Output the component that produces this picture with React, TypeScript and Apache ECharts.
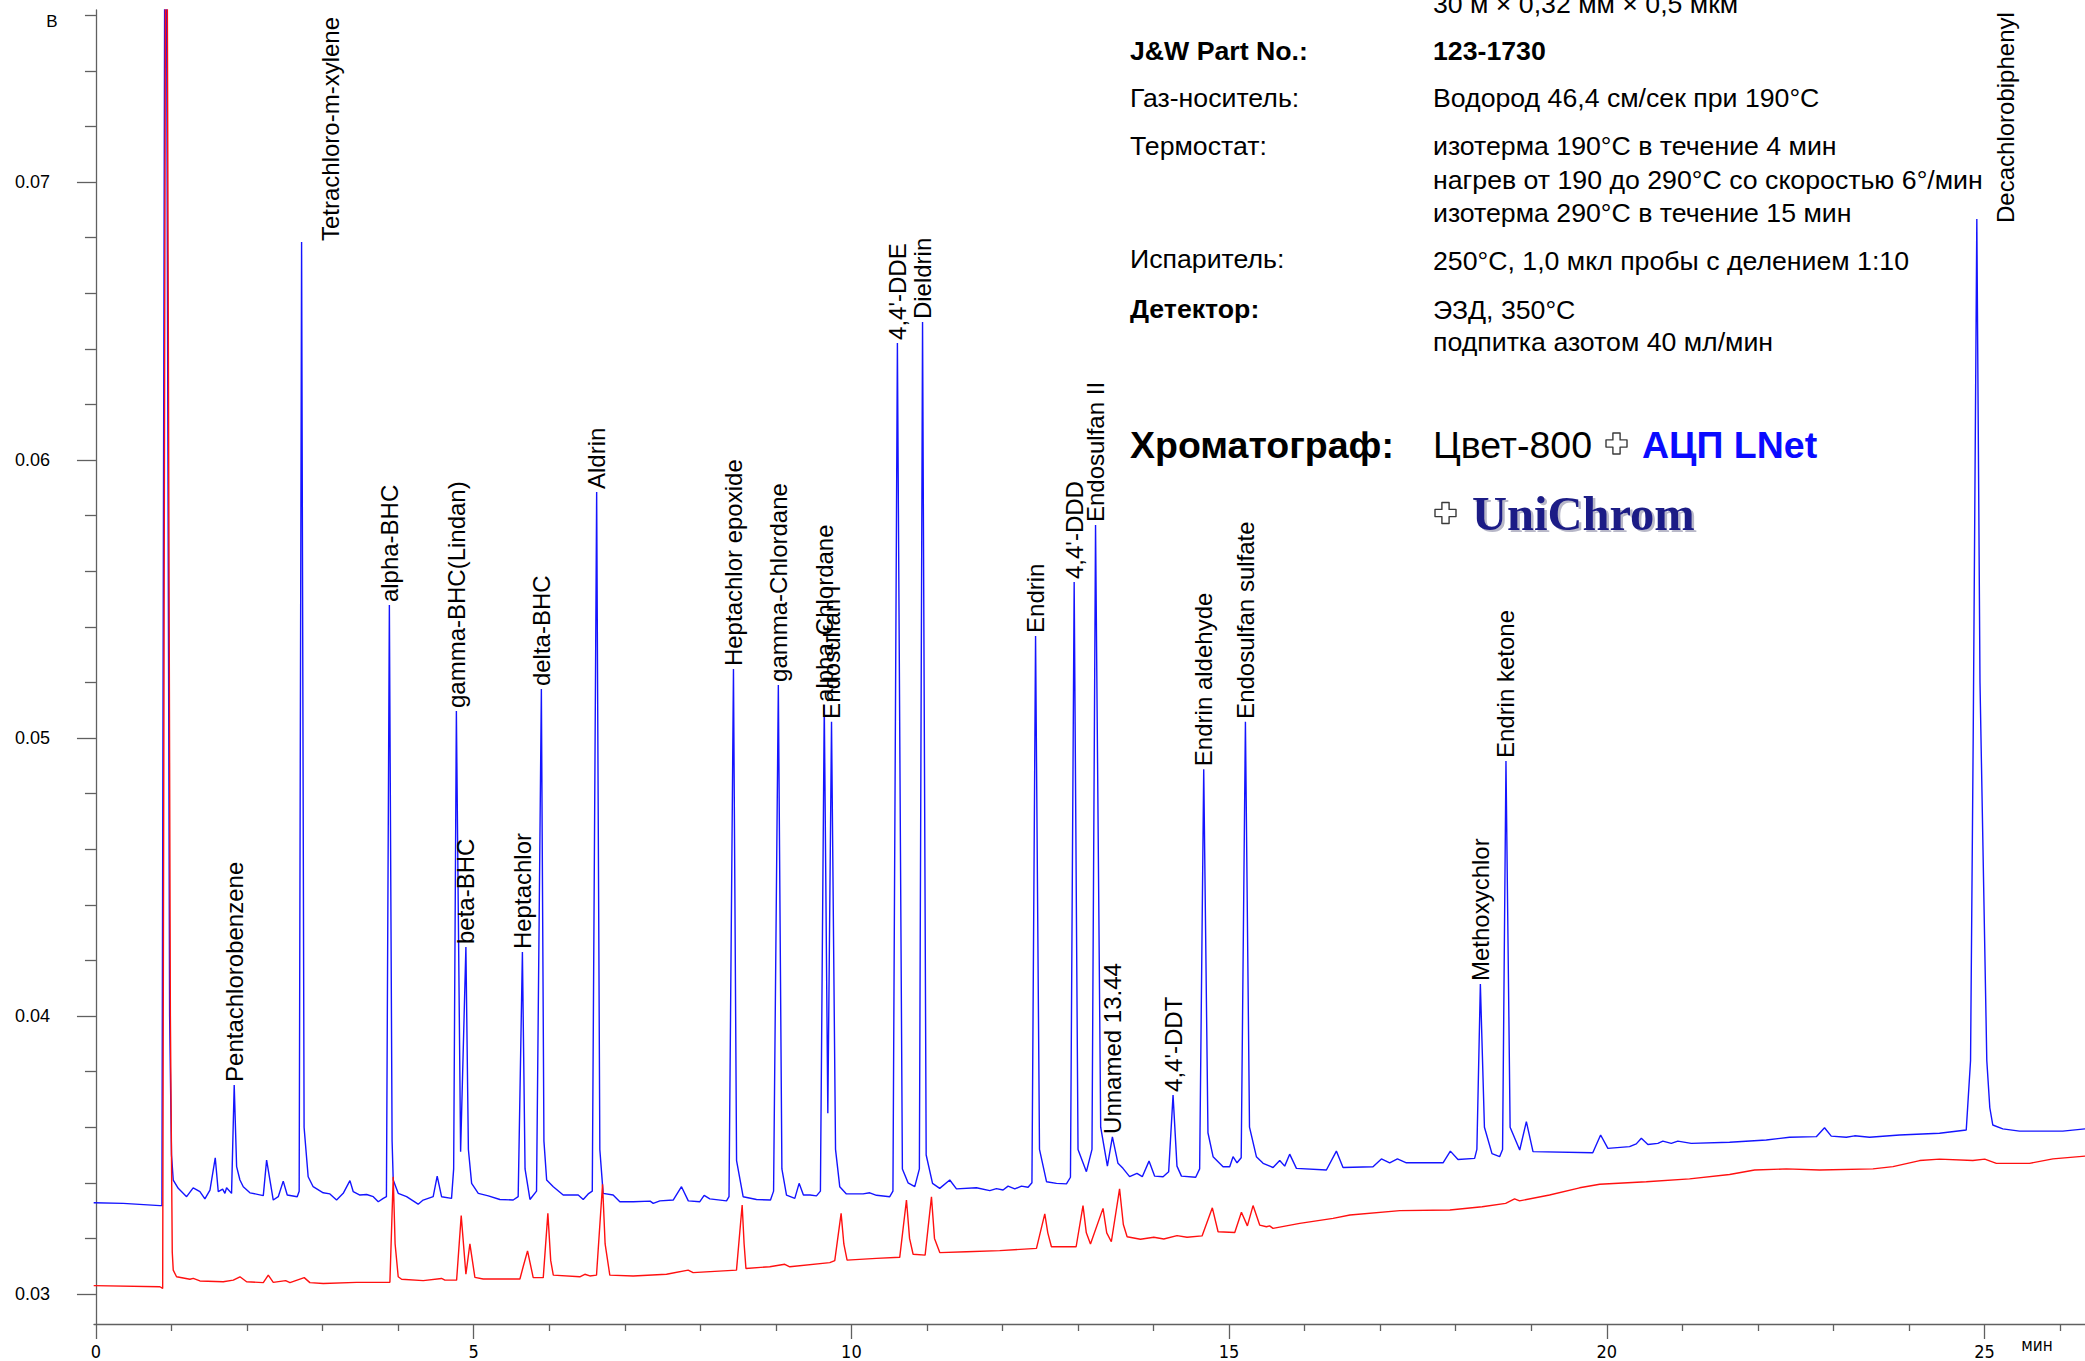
import { useEffect, useRef } from 'react';
import * as echarts from 'echarts';

// ---------- data ----------
const blueTrace: [number, number][] = [
  [-0.03, 0.03328], [0.361, 0.03326], [0.847, 0.03318], [0.873, 0.03318], [0.92, 0.09], [0.975, 0.04], [1.0, 0.035],
  [1.023, 0.0341], [1.089, 0.0338], [1.2, 0.0335], [1.287, 0.03382], [1.376, 0.03368], [1.442, 0.03342], [1.509, 0.03374],
  [1.579, 0.0349], [1.619, 0.03368], [1.677, 0.03377], [1.707, 0.03362], [1.729, 0.03382], [1.795, 0.03362], [1.83, 0.03752],
  [1.862, 0.03458], [1.906, 0.0341], [1.95, 0.03386], [2.038, 0.03364], [2.215, 0.03354], [2.259, 0.03482], [2.303, 0.0341],
  [2.347, 0.03338], [2.413, 0.0335], [2.479, 0.03406], [2.532, 0.03356], [2.664, 0.0335], [2.69, 0.0337], [2.722, 0.06784],
  [2.755, 0.036], [2.809, 0.03422], [2.875, 0.03386], [3.008, 0.03364], [3.097, 0.0336], [3.185, 0.03338], [3.273, 0.03362],
  [3.362, 0.03408], [3.406, 0.03368], [3.494, 0.03356], [3.583, 0.03358], [3.671, 0.0335], [3.737, 0.03332], [3.803, 0.03344],
  [3.845, 0.0335], [3.884, 0.05478], [3.92, 0.0355], [3.935, 0.0341], [4.001, 0.03362], [4.112, 0.0335], [4.265, 0.03323],
  [4.331, 0.03338], [4.464, 0.0335], [4.517, 0.03424], [4.575, 0.0335], [4.707, 0.03344], [4.735, 0.0345], [4.771, 0.05097],
  [4.827, 0.03512], [4.897, 0.04248], [4.93, 0.0352], [4.973, 0.03398], [5.061, 0.03362], [5.194, 0.03353], [5.347, 0.0334],
  [5.523, 0.03338], [5.589, 0.0335], [5.645, 0.0423], [5.68, 0.0345], [5.745, 0.0334], [5.832, 0.0337], [5.896, 0.05176],
  [5.93, 0.0355], [5.966, 0.0341], [6.054, 0.03386], [6.185, 0.03356], [6.384, 0.03356], [6.45, 0.0334], [6.516, 0.0336],
  [6.57, 0.0337], [6.628, 0.05885], [6.67, 0.0352], [6.714, 0.03362], [6.846, 0.03356], [6.935, 0.03332], [7.111, 0.03332],
  [7.336, 0.03334], [7.377, 0.03326], [7.465, 0.03335], [7.641, 0.03338], [7.751, 0.03386], [7.841, 0.03335], [7.994, 0.03332],
  [8.051, 0.03355], [8.126, 0.03342], [8.347, 0.03335], [8.38, 0.0335], [8.439, 0.05248], [8.48, 0.0348], [8.567, 0.0335],
  [8.744, 0.0334], [8.929, 0.03338], [8.97, 0.0337], [9.033, 0.05191], [9.08, 0.0345], [9.141, 0.03356], [9.251, 0.03344],
  [9.308, 0.03398], [9.365, 0.03356], [9.453, 0.03356], [9.538, 0.03353], [9.59, 0.0337], [9.641, 0.05119], [9.688, 0.0365],
  [9.737, 0.05058], [9.79, 0.0352], [9.846, 0.03386], [9.934, 0.0336], [10.155, 0.0336], [10.243, 0.03364], [10.332, 0.03355],
  [10.508, 0.0335], [10.55, 0.0337], [10.609, 0.06421], [10.675, 0.0345], [10.75, 0.034], [10.839, 0.03386], [10.9, 0.0345],
  [10.942, 0.06496], [10.99, 0.035], [11.074, 0.03398], [11.169, 0.0338], [11.302, 0.0341], [11.391, 0.03378], [11.655, 0.03382],
  [11.832, 0.03372], [11.92, 0.03379], [12.008, 0.03374], [12.074, 0.03388], [12.163, 0.03378], [12.251, 0.03388], [12.339, 0.03384],
  [12.39, 0.034], [12.438, 0.05367], [12.49, 0.0352], [12.583, 0.03404], [12.715, 0.03398], [12.847, 0.03396], [12.9, 0.0342],
  [12.949, 0.05561], [13.0, 0.0352], [13.111, 0.0344], [13.185, 0.0352], [13.232, 0.05766], [13.3, 0.036], [13.389, 0.0346],
  [13.455, 0.03565], [13.529, 0.0347], [13.595, 0.03452], [13.683, 0.03422], [13.78, 0.03434], [13.851, 0.03422], [13.94, 0.03478],
  [14.015, 0.03424], [14.126, 0.03422], [14.2, 0.0344], [14.258, 0.03716], [14.31, 0.0346], [14.369, 0.03424], [14.558, 0.0342],
  [14.61, 0.0345], [14.664, 0.04888], [14.72, 0.0358], [14.788, 0.03494], [14.92, 0.03458], [15.008, 0.03458], [15.052, 0.03494],
  [15.105, 0.03472], [15.16, 0.0349], [15.216, 0.05058], [15.27, 0.036], [15.361, 0.03494], [15.45, 0.0347], [15.582, 0.03455],
  [15.67, 0.0348], [15.736, 0.0346], [15.802, 0.03503], [15.891, 0.03452], [16.288, 0.03446], [16.42, 0.03514], [16.508, 0.03455],
  [16.905, 0.03458], [17.016, 0.03486], [17.126, 0.03472], [17.228, 0.03486], [17.347, 0.03472], [17.832, 0.03472], [17.929, 0.03514],
  [18.03, 0.03484], [18.25, 0.03488], [18.28, 0.0352], [18.326, 0.04115], [18.38, 0.036], [18.48, 0.03505], [18.581, 0.03494],
  [18.62, 0.0352], [18.665, 0.04917], [18.72, 0.036], [18.847, 0.03518], [18.935, 0.0362], [19.023, 0.03512], [19.814, 0.03508],
  [19.918, 0.03572], [20.014, 0.03524], [20.301, 0.0353], [20.39, 0.0354], [20.457, 0.0356], [20.544, 0.03538], [20.676, 0.03542],
  [20.742, 0.0355], [20.853, 0.03542], [20.94, 0.0355], [21.118, 0.03542], [21.625, 0.03546], [22.111, 0.03554], [22.419, 0.03564],
  [22.773, 0.03566], [22.882, 0.03598], [22.971, 0.03568], [23.17, 0.03564], [23.28, 0.03569], [23.478, 0.03564], [23.875, 0.03572],
  [24.404, 0.03578], [24.758, 0.0359], [24.815, 0.0384], [24.85, 0.05], [24.898, 0.06867], [24.94, 0.052], [25.03, 0.0384],
  [25.07, 0.0367], [25.109, 0.03608], [25.242, 0.03594], [25.463, 0.03586], [26.036, 0.03586], [26.33, 0.03594],
];

const redTrace: [number, number][] = [
  [-0.03, 0.0303], [0.847, 0.03026], [0.883, 0.0302], [0.93, 0.09], [0.985, 0.04], [1.01, 0.0315], [1.023, 0.03086],
  [1.067, 0.03062], [1.244, 0.03053], [1.288, 0.03056], [1.376, 0.03047], [1.685, 0.03044], [1.818, 0.0305], [1.906, 0.03062],
  [1.994, 0.03044], [2.215, 0.03041], [2.281, 0.03068], [2.347, 0.03042], [2.511, 0.03048], [2.568, 0.03041], [2.757, 0.03059],
  [2.832, 0.03041], [3.009, 0.03038], [3.45, 0.03042], [3.891, 0.03042], [3.935, 0.03422], [3.96, 0.0318], [4.001, 0.03062],
  [4.046, 0.03053], [4.332, 0.03048], [4.575, 0.03056], [4.619, 0.0305], [4.774, 0.0305], [4.835, 0.03282], [4.897, 0.03071],
  [4.95, 0.0318], [5.016, 0.0306], [5.126, 0.03054], [5.612, 0.03054], [5.655, 0.03098], [5.713, 0.03155], [5.788, 0.03059],
  [5.921, 0.03059], [5.982, 0.0329], [6.02, 0.0312], [6.054, 0.03068], [6.405, 0.03062], [6.471, 0.03071], [6.538, 0.03065],
  [6.626, 0.03068], [6.706, 0.03395], [6.74, 0.0318], [6.802, 0.03068], [7.111, 0.03065], [7.553, 0.03071], [7.839, 0.03086],
  [7.905, 0.03077], [8.479, 0.03086], [8.554, 0.0332], [8.58, 0.0318], [8.604, 0.03092], [8.92, 0.03098], [9.118, 0.03107],
  [9.185, 0.03098], [9.714, 0.03113], [9.78, 0.0312], [9.864, 0.0329], [9.9, 0.0318], [9.943, 0.03122], [10.33, 0.03128],
  [10.64, 0.03132], [10.729, 0.03338], [10.77, 0.032], [10.817, 0.03143], [10.976, 0.0314], [11.06, 0.0335], [11.1, 0.032],
  [11.17, 0.03149], [11.524, 0.03152], [11.964, 0.03156], [12.45, 0.03164], [12.56, 0.03288], [12.6, 0.0322], [12.648, 0.0317],
  [12.975, 0.0317], [13.066, 0.03318], [13.11, 0.0322], [13.165, 0.0318], [13.331, 0.03308], [13.38, 0.0322], [13.441, 0.03188],
  [13.55, 0.03378], [13.6, 0.0325], [13.65, 0.03206], [13.826, 0.03197], [14.003, 0.03204], [14.135, 0.03198], [14.311, 0.0321],
  [14.443, 0.03204], [14.642, 0.03209], [14.778, 0.0331], [14.854, 0.03224], [15.075, 0.03221], [15.163, 0.03294], [15.242, 0.03245],
  [15.317, 0.03318], [15.405, 0.03248], [15.494, 0.03242], [15.536, 0.03245], [15.581, 0.03236], [15.935, 0.03254], [16.376, 0.03272],
  [16.6, 0.03284], [17.261, 0.033], [17.923, 0.03302], [18.35, 0.03314], [18.661, 0.03326], [18.779, 0.03342], [18.845, 0.03335],
  [19.242, 0.03356], [19.64, 0.03382], [19.906, 0.03395], [20.523, 0.03404], [21.095, 0.03414], [21.625, 0.0343], [21.956, 0.03446],
  [22.377, 0.0345], [22.816, 0.03446], [23.523, 0.0345], [23.788, 0.03458], [24.142, 0.0348], [24.404, 0.03485], [24.845, 0.0348],
  [25.003, 0.03485], [25.157, 0.0347], [25.596, 0.0347], [25.905, 0.03486], [26.33, 0.03496],
];

const peakNames = [
  'Pentachlorobenzene', 'Tetrachloro-m-xylene', 'alpha-BHC', 'gamma-BHC(Lindan)', 'beta-BHC', 'Heptachlor', 'delta-BHC',
  'Aldrin', 'Heptachlor epoxide', 'gamma-Chlordane', 'alpha-Chlordane', 'Endosulfan I', "4,4'-DDE", 'Dieldrin', 'Endrin',
  "4,4'-DDD", 'Endosulfan II', 'Unnamed 13.44', "4,4'-DDT", 'Endrin aldehyde', 'Endosulfan sulfate', 'Methoxychlor',
  'Endrin ketone', 'Decachlorobiphenyl',
];
const peakTimes = [
  1.83, 2.722, 3.884, 4.771, 4.897, 5.645, 5.896, 6.628, 8.439, 9.033, 9.641, 9.737, 10.609, 10.942, 12.438, 12.949, 13.232,
  13.455, 14.258, 14.664, 15.216, 18.326, 18.665, 24.898,
];
const peakHeights = [
  0.03752, 0.06784, 0.05478, 0.05097, 0.04248, 0.0423, 0.05176, 0.05885, 0.05248, 0.05191, 0.05119, 0.05058, 0.06421, 0.06496,
  0.05367, 0.05561, 0.05766, 0.03565, 0.03716, 0.04888, 0.05058, 0.04115, 0.04917, 0.06867,
];

const xMajorValues = [0, 5, 10, 15, 20, 25];
const xMinorValues = [1, 2, 3, 4, 6, 7, 8, 9, 11, 12, 13, 14, 16, 17, 18, 19, 21, 22, 23, 24, 26];
const yLabelValues = [0.03, 0.04, 0.05, 0.06, 0.07];
const yMinorTickValues = [
  0.032, 0.034, 0.036, 0.038, 0.042, 0.044, 0.046, 0.048, 0.052, 0.054, 0.056, 0.058, 0.062, 0.064, 0.066, 0.068, 0.072,
  0.074, 0.076,
];
const X_MIN = -0.026;
const X_MAX = 26.33;
const Y_MIN = 0.028921;
const Y_MAX = 0.076187;

const yUnit = 'В';
const xUnit = 'мин';

const infoColumnText = '30 м × 0,32 мм × 0,5 мкм';
const infoLeftTexts = ['J&W Part No.:', 'Газ-носитель:', 'Термостат:', 'Испаритель:', 'Детектор:'];
const infoRightTexts = [
  '123-1730',
  'Водород 46,4 см/сек при 190°C',
  'изотерма 190°C в течение 4 мин',
  'нагрев от 190 до 290°C со скоростью 6°/мин',
  'изотерма 290°C в течение 15 мин',
  '250°C, 1,0 мкл пробы с делением 1:10',
  'ЭЗД, 350°C',
  'подпитка азотом 40 мл/мин',
];
const chromTitle = 'Хроматограф:';
const chromDevice = 'Цвет-800';
const chromAdc = 'АЦП LNet';
const chromSoft = 'UniChrom';

// style only: pixel shift [dx, dy] of a few peak labels
const labelShift: Record<string, [number, number]> = {
  'Tetrachloro-m-xylene': [29, 2],
  Decachlorobiphenyl: [29, 7],
};

const FONT = "'Liberation Sans', Arial, Helvetica, sans-serif";
const NARROW = "'Liberation Sans Narrow', 'Arial Narrow', 'DejaVu Sans Condensed', 'Liberation Sans', sans-serif";

function txt(text: string, x: number, y: number, font: string, fill = '#000', align = 'left') {
  return {
    type: 'text',
    x,
    y,
    silent: true,
    z: 100,
    style: { text, font, fill, textAlign: align, textVerticalAlign: 'middle' },
  };
}

function plusMark(cx: number, cy: number) {
  const h = 10.5;
  const a = 3.6;
  return {
    type: 'polygon',
    silent: true,
    z: 100,
    shape: {
      points: [
        [cx - a, cy - h], [cx + a, cy - h], [cx + a, cy - a], [cx + h, cy - a], [cx + h, cy + a], [cx + a, cy + a],
        [cx + a, cy + h], [cx - a, cy + h], [cx - a, cy + a], [cx - h, cy + a], [cx - h, cy - a], [cx - a, cy - a],
      ],
    },
    style: { fill: '#ffffff', stroke: '#3a3a3a', lineWidth: 1.4, lineJoin: 'round' },
  };
}

export default function App() {
  const ref = useRef<HTMLDivElement>(null);

  useEffect(() => {
    if (!ref.current) return;
    const chart = echarts.init(ref.current, undefined, { renderer: 'svg' });
    const axisColor = '#606060';
    const reg = `26.7px ${FONT}`;
    const bold = `bold 26.7px ${FONT}`;
    const L = 1130;
    const R = 1433;

    const graphic: any[] = [
      txt(yUnit, 52, 21, `17px ${FONT}`, '#000', 'center'),
      txt(xUnit, 2037, 1345, `17px ${NARROW}`, '#000', 'center'),
      txt(infoColumnText, R, 4, reg),
      txt(infoLeftTexts[0], L, 50.5, bold),
      txt(infoRightTexts[0], R, 50.5, bold),
      txt(infoLeftTexts[1], L, 98, reg),
      txt(infoRightTexts[1], R, 98, reg),
      txt(infoLeftTexts[2], L, 146, reg),
      txt(infoRightTexts[2], R, 146, reg),
      txt(infoRightTexts[3], R, 179.5, reg),
      txt(infoRightTexts[4], R, 213, reg),
      txt(infoLeftTexts[3], L, 259, reg),
      txt(infoRightTexts[5], R, 261, reg),
      txt(infoLeftTexts[4], L, 308.5, bold),
      txt(infoRightTexts[6], R, 310, reg),
      txt(infoRightTexts[7], R, 342, reg),
      txt(chromTitle, L, 445, `bold 37.5px ${FONT}`),
      txt(chromDevice, R, 445, `37.5px ${FONT}`),
      plusMark(1616.5, 443.5),
      txt(chromAdc, 1642, 445, `bold 37.5px ${FONT}`, '#0a0aff'),
      plusMark(1445.5, 513),
      txt(chromSoft, 1474.5, 515.5, `bold 48.5px 'Liberation Serif', 'Times New Roman', serif`, '#b8b8c8'),
      txt(chromSoft, 1472, 513, `bold 48.5px 'Liberation Serif', 'Times New Roman', serif`, '#1c1c86'),
    ];

    const option: any = {
      animation: false,
      backgroundColor: '#ffffff',
      grid: { left: 94, right: 0, top: 10, bottom: 37, containLabel: false, outerBoundsMode: 'none' },
      xAxis: [
        {
          type: 'value',
          min: X_MIN,
          max: X_MAX,
          axisLine: { show: true, lineStyle: { color: axisColor, width: 1.3 } },
          axisTick: { show: true, customValues: xMajorValues, length: 15, lineStyle: { color: axisColor, width: 1.3 } },
          axisLabel: {
            show: true,
            customValues: xMajorValues,
            margin: 18,
            fontSize: 18,
            fontFamily: NARROW,
            color: '#000',
            formatter: (v: number) => String(Math.round(v)),
          },
          splitLine: { show: false },
        },
        {
          type: 'value',
          min: X_MIN,
          max: X_MAX,
          position: 'bottom',
          offset: 0,
          axisLine: { show: false },
          axisTick: { show: true, customValues: xMinorValues, length: 7, lineStyle: { color: axisColor, width: 1.3 } },
          axisLabel: { show: false },
          splitLine: { show: false },
        },
      ],
      yAxis: [
        {
          type: 'value',
          min: Y_MIN,
          max: Y_MAX,
          axisLine: { show: true, lineStyle: { color: axisColor, width: 1.3 } },
          axisTick: { show: true, customValues: yLabelValues, length: 19, lineStyle: { color: axisColor, width: 1.3 } },
          axisLabel: {
            show: true,
            customValues: yLabelValues,
            margin: 44,
            fontSize: 18,
            fontFamily: FONT,
            color: '#000',
            formatter: (v: number) => v.toFixed(2),
          },
          splitLine: { show: false },
        },
        {
          type: 'value',
          min: Y_MIN,
          max: Y_MAX,
          position: 'left',
          offset: 0,
          axisLine: { show: false },
          axisTick: { show: true, customValues: yMinorTickValues, length: 11, lineStyle: { color: axisColor, width: 1.3 } },
          axisLabel: { show: false },
          splitLine: { show: false },
        },
      ],
      series: [
        {
          name: 'blue',
          type: 'line',
          data: blueTrace,
          showSymbol: false,
          symbol: 'none',
          lineStyle: { color: '#1414ff', width: 1.4 },
          clip: true,
          silent: true,
          z: 2,
        },
        {
          name: 'red',
          type: 'line',
          data: redTrace,
          showSymbol: false,
          symbol: 'none',
          lineStyle: { color: '#ff1010', width: 1.4 },
          clip: true,
          silent: true,
          z: 3,
        },
        {
          name: 'labels',
          type: 'custom',
          data: peakTimes.map((t, i) => [t, peakHeights[i], i]),
          clip: false,
          silent: true,
          z: 5,
          renderItem: (_params: any, api: any) => {
            const i = api.value(2);
            const p = api.coord([api.value(0), api.value(1)]);
            const name = peakNames[i];
            const shift = labelShift[name] || [0, 0];
            return {
              type: 'text',
              x: p[0] + shift[0],
              y: p[1] - 3 + shift[1],
              rotation: Math.PI / 2,
              style: {
                text: name,
                font: `24px ${FONT}`,
                fill: '#000',
                textAlign: 'left',
                textVerticalAlign: 'middle',
              },
            };
          },
        },
      ],
      graphic,
    };

    chart.setOption(option);
    return () => chart.dispose();
  }, []);

  return (
    <div
      ref={ref}
      style={{ position: 'fixed', left: 0, top: 0, width: 2085, height: 1361, background: '#fff' }}
    />
  );
}
